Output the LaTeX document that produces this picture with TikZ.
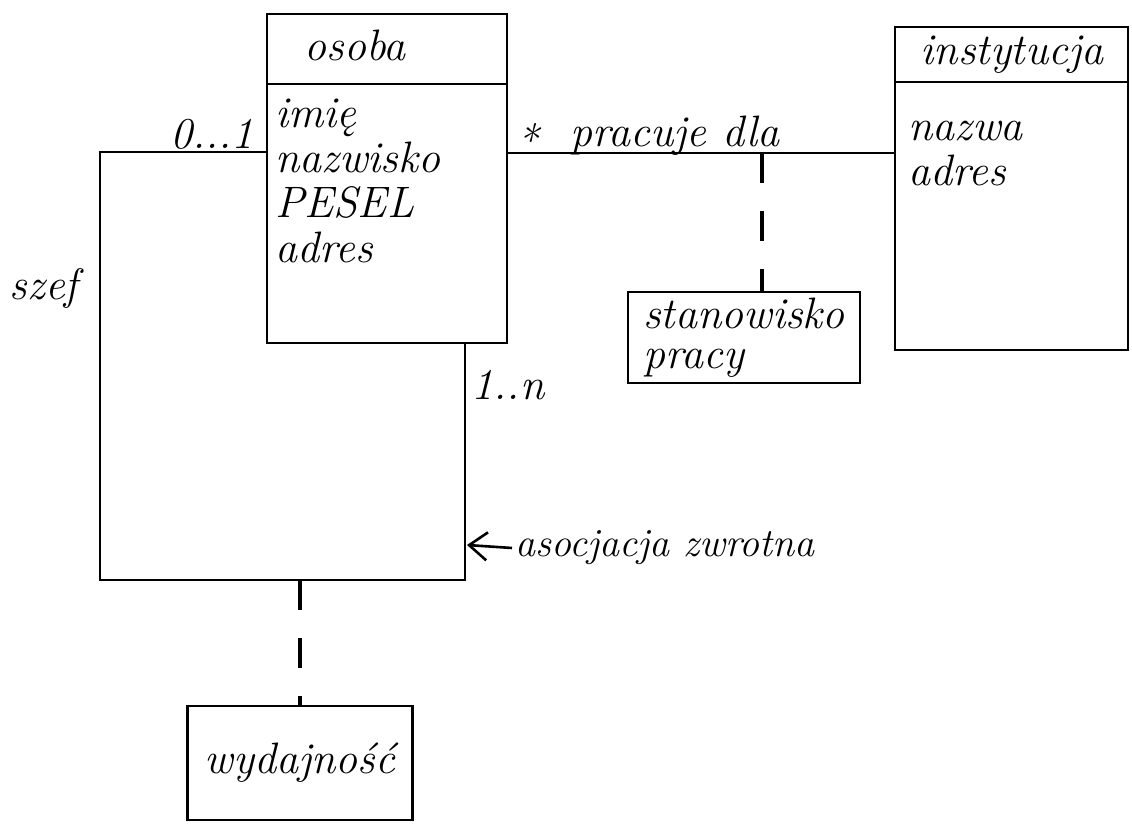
\documentclass[tikz,border=0pt]{standalone}
\usetikzlibrary{arrows.meta}
\begin{document}
\begin{tikzpicture}[x=0.5pt,y=-0.5pt,
  line width=1.3pt,
  cls/.style={draw, rectangle, inner sep=0pt, line width=1.3pt},
  lbl/.style={font=\fontsize{22}{22.5}\selectfont\itshape, inner sep=1pt},
  assocdash/.style={dash pattern=on 15pt off 14pt, line width=1.8pt}]
\useasboundingbox (0,0) rectangle (1132,830);

% classes
\node[cls, minimum width=120pt, minimum height=164.5pt] (osoba) at (387,178.5) {};
\coordinate (osobahdr) at (0,84);
\draw (osoba.west |- osobahdr) -- (osoba.east |- osobahdr);
\node[lbl] (osobaname) at (355,45) {osoba};
\node[lbl, anchor=north west, align=left] (osobaattr) at (272,96) {imię\\nazwisko\\PESEL\\adres};

\node[cls, minimum width=116.5pt, minimum height=161.5pt] (inst) at (1011.5,188.5) {};
\coordinate (insthdr) at (0,82);
\draw (inst.west |- insthdr) -- (inst.east |- insthdr);
\node[lbl] (instname) at (1012,55) {instytucja};
\node[lbl, anchor=north west, align=left] (instattr) at (905,118) {nazwa\\adres};

\node[cls, minimum width=116pt, minimum height=45.5pt, align=left,
      font=\fontsize{22}{20}\selectfont\itshape] (stan) at (744,337.5) {stanowisko\\pracy};

\node[cls, minimum width=112.5pt, minimum height=57pt,
      font=\fontsize{22}{22.5}\selectfont\itshape] (wyd) at (300,763) {wydajność};

% association osoba -- instytucja
\coordinate (assocy) at (0,153);
\draw (osoba.east |- assocy) -- (inst.west |- assocy);
\node[lbl] (star) at (527,140) {*};
\node[lbl] (pracuje) at (675,136) {pracuje dla};
\coordinate (acpt) at (762,153);
\draw[assocdash] (acpt) -- (acpt |- stan.north);

% reflexive association
\coordinate (selfL) at (100,152);
\coordinate (selfBL) at (100,580);
\coordinate (selfBR) at (465,580);
\draw (osoba.west |- selfL) -- (selfL) -- (selfBL) -- (selfBR) -- (osoba.south -| selfBR);
\node[lbl] (mult01) at (212,134) {0...1};
\node[lbl] (szef) at (44,288) {szef};
\node[lbl] (mult1n) at (508,385) {1..n};
\coordinate (selfmid) at (300,580);
\draw[assocdash] (selfmid) -- (wyd.north);

% note arrow
\node[lbl, anchor=west, font=\fontsize{20}{22}\selectfont\itshape] (asoc) at (512,548) {asocjacja zwrotna};
\coordinate (arrowtip) at (467,545);
\draw[-{Straight Barb[length=9pt,width=14pt]}] (asoc.west) -- (arrowtip);
\end{tikzpicture}
\end{document}
